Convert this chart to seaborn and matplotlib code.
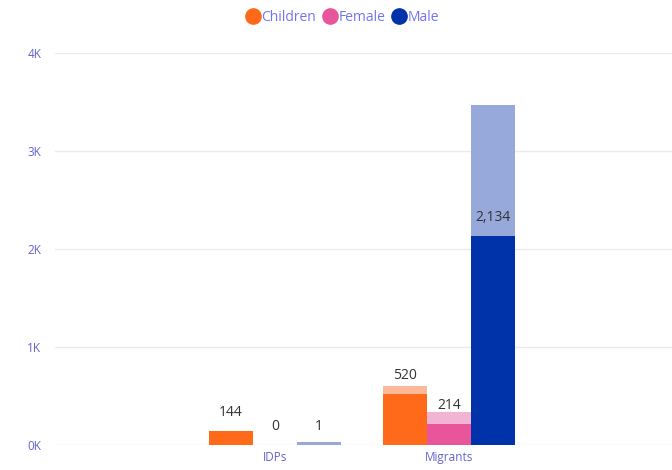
"""Grouped bars with lighter overlay bars (IDPs vs Migrants by group)."""

import matplotlib

matplotlib.use("Agg")

import matplotlib.pyplot as plt  # noqa: E402
import pandas as pd  # noqa: E402
import seaborn as sns  # noqa: E402
from matplotlib.lines import Line2D  # noqa: E402

# Data
categories = ["IDPs", "Migrants"]
groups = ["Children", "Female", "Male"]
values_idps = [144, 0, 1]
values_migrants = [520, 214, 2134]
# lighter background bars
totals_idps = [144, 0, 30]
totals_migrants = [600, 335, 3470]
y_ticks = [0, 1000, 2000, 3000, 4000]
y_tick_labels = ["0K", "1K", "2K", "3K", "4K"]

solid_colors = {"Children": "#FF6A1A", "Female": "#E8559B", "Male": "#0033AA"}
light_colors = {"Children": "#FCB99A", "Female": "#F3B3D2", "Male": "#97A8DA"}
text_blue = "#6464D2"

rows = []
for cat, vals, tots in [
    ("IDPs", values_idps, totals_idps),
    ("Migrants", values_migrants, totals_migrants),
]:
    for g, v, t in zip(groups, vals, tots):
        rows.append({"category": cat, "group": g, "value": v, "total": t})
df = pd.DataFrame(rows)

sns.set_theme(style="white")
plt.rcParams["font.family"] = ["Open Sans", "DejaVu Sans"]

fig = plt.figure(figsize=(6.72, 4.70), dpi=100)
ax = fig.add_axes([0.082, 0.053, 0.918, 0.834])

# background (lighter) bars
sns.barplot(
    data=df, x="category", y="total", hue="group", order=categories,
    hue_order=groups, palette=light_colors, width=0.76, ax=ax,
    legend=False, saturation=1, errorbar=None, linewidth=0,
)
n_light = len(ax.containers)

# foreground bars
sns.barplot(
    data=df, x="category", y="value", hue="group", order=categories,
    hue_order=groups, palette=solid_colors, width=0.76, ax=ax,
    legend=False, saturation=1, errorbar=None, linewidth=0,
)

for cont in ax.containers[n_light:]:
    ax.bar_label(
        cont,
        labels=[f"{b.get_height():,.0f}" for b in cont],
        padding=8, fontsize=10, color="#333333",
    )

ax.set_xlim(-1.264, 2.282)
ax.set_ylim(0, 4000)
ax.set_yticks(y_ticks)
ax.set_yticklabels(y_tick_labels)
ax.yaxis.grid(True, color="#EBEBEB", linewidth=1)
ax.set_axisbelow(True)
for side in ["top", "right", "left", "bottom"]:
    ax.spines[side].set_visible(False)
ax.tick_params(axis="y", length=0, pad=20, labelsize=8.5, labelcolor=text_blue)
ax.tick_params(axis="x", length=0, pad=4, labelsize=8.5, labelcolor=text_blue)
for lbl in ax.get_yticklabels():
    lbl.set_horizontalalignment("left")
ax.set_xlabel("")
ax.set_ylabel("")

handles = [
    Line2D([], [], marker="o", linestyle="", markersize=11,
           markerfacecolor=solid_colors[g], markeredgecolor=solid_colors[g])
    for g in groups
]
leg = fig.legend(
    handles, groups, loc="center", bbox_to_anchor=(0.51, 0.963), ncol=3,
    frameon=False, fontsize=10, handletextpad=0.1, columnspacing=0.5,
    handlelength=1.0,
)
for t in leg.get_texts():
    t.set_color("#7373F0")

fig.savefig("out.png", dpi=100)
plt.close(fig)
